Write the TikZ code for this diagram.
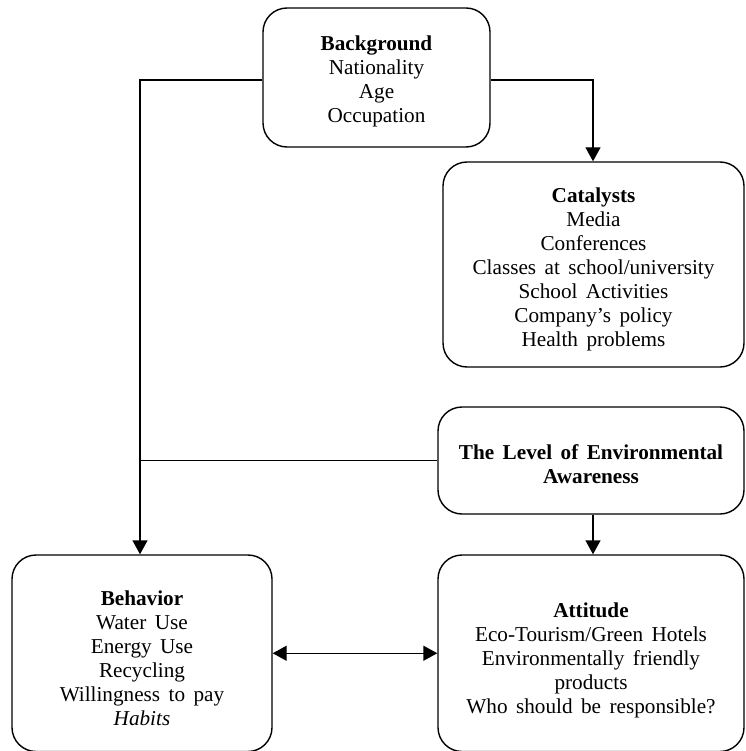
\documentclass[tikz,border=0pt]{standalone}
\usepackage{fontspec}
\setmainfont{Liberation Serif}
\usetikzlibrary{arrows.meta}
\newcommand\boxfont{\fontsize{21.2}{24.1}\selectfont\spaceskip=0.4em plus 0.1em minus 0.05em\relax}
\tikzset{
  card/.style={draw, line width=1.4pt, rounded corners=24pt, inner sep=0pt},
  txt/.style={align=center, font=\boxfont, inner sep=0pt},
  link/.style={line width=1.4pt},
  arr/.style={line width=1.4pt, -{Triangle[length=14pt,width=15pt]}},
  darr/.style={line width=1.4pt, {Triangle[length=14pt,width=15pt]}-{Triangle[length=14pt,width=15pt]}}
}
\begin{document}
\begin{tikzpicture}[x=1pt,y=-1pt]
\useasboundingbox (0,0) rectangle (745,751);
\node[card, minimum width=227pt, minimum height=139pt] (bg) at (376.5,77.5) {};
\node[txt] (bgT) at ([yshift=-4pt]bg.center)
  {\textbf{Background}\\Nationality\\Age\\Occupation};
\node[card, minimum width=301pt, minimum height=205pt] (cat) at (593.5,264.5) {};
\node[txt] (catT) at ([yshift=-5pt]cat.center)
  {\textbf{Catalysts}\\Media\\Conferences\\Classes at school/university\\School Activities\\Company’s policy\\Health problems};
\node[card, minimum width=306pt, minimum height=107pt] (lev) at (591,460.5) {};
\node[txt] (levT) at ([yshift=-4pt]lev.center)
  {\textbf{The Level of Environmental}\\\textbf{Awareness}};
\node[card, minimum width=260pt, minimum height=196.5pt] (beh) at (142,653.25) {};
\node[txt] (behT) at ([yshift=-5pt]beh.center)
  {\textbf{Behavior}\\Water Use\\Energy Use\\Recycling\\Willingness to pay\\\textit{Habits}};
\node[card, minimum width=306pt, minimum height=196.5pt] (att) at (591,653.25) {};
\node[txt] (attT) at ([yshift=-7pt]att.center)
  {\textbf{Attitude}\\Eco-Tourism/Green Hotels\\Environmentally friendly\\products\\Who should be responsible?};
\coordinate (j1) at (140,80);
\coordinate (j2) at (593,80);
\draw[arr] (bg.west |- j1) -- (j1) -- (beh.north -| j1);
\draw[arr] (bg.east |- j2) -- (j2) -- (cat.north -| j2);
\draw[link] (lev.west) -- (lev.west -| j1);
\draw[arr] (lev.south -| j2) -- (att.north -| j2);
\draw[darr] (beh.east) -- (att.west);
\end{tikzpicture}
\end{document}
